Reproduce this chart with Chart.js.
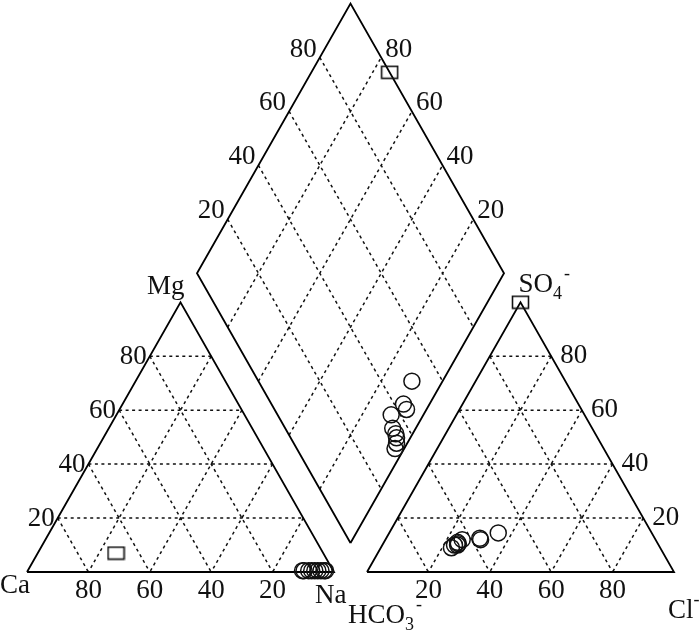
<!DOCTYPE html>
<html>
<head>
<meta charset="utf-8">
<script src="https://cdn.jsdelivr.net/npm/chart.js@4/dist/chart.umd.min.js"></script>
<style>
  body { margin: 0; background: #fff; }
  canvas { display: block; }
</style>
</head>
<body>
<canvas id="piper" width="700" height="632"></canvas>
<script>
// Piper diagram values, meq %
// samples drawn as circles
const naCircle   = [90, 91.5, 93.5, 89.5, 92.5, 94.5, 95.5, 96.5, 97];
const mgCircle   = [0.5, 0.5, 0.5, 0.5, 0.5, 0.5, 0.5, 0.5, 0.5];
const caCircle   = [9.5, 8, 6, 10, 7, 5, 4, 3, 2.5];
const hco3Circle = [50, 57, 57, 63, 65, 65, 65.5, 66.5, 68];
const so4Circle  = [14.5, 12, 12.5, 12, 11, 10.5, 10, 10, 9];
const clCircle   = [35.5, 31, 30.5, 25, 24, 24.5, 24.5, 23.5, 23];
// sample drawn as a square
const naSquare   = [25.5];
const mgSquare   = [7];
const caSquare   = [67.5];
const hco3Square = [0];
const so4Square  = [100];
const clSquare   = [0];
// tick labels on every edge
const TICKS = [20, 40, 60, 80];

// geometry: each triangle has side 100, GAP between the two triangles
const GAP = 10.75;
const K = Math.sqrt(3) / 2;

function catXY(ca, mg, na) { return { x: na + mg / 2, y: mg * K }; }
function anXY(hco3, so4, cl) { return { x: 100 + GAP + cl + so4 / 2, y: so4 * K }; }
// diamond point: Na kept from the cation side, HCO3 from the anion side
function dmXY(na, hco3) { return { x: (na + 200 + GAP - hco3) / 2, y: K * (200 + GAP - hco3 - na) }; }

const BREAK = { x: NaN, y: NaN };
function segments(pairs) {
    const out = [];
    pairs.forEach(p => out.push(p[0], p[1], BREAK));
    return out;
}

const gridCat = segments(TICKS.flatMap(k => [
    [catXY(100 - k, k, 0), catXY(0, k, 100 - k)],
    [catXY(k, 100 - k, 0), catXY(k, 0, 100 - k)],
    [catXY(0, 100 - k, k), catXY(100 - k, 0, k)]
]));
const gridAn = segments(TICKS.flatMap(k => [
    [anXY(100 - k, k, 0), anXY(0, k, 100 - k)],
    [anXY(k, 100 - k, 0), anXY(k, 0, 100 - k)],
    [anXY(0, 100 - k, k), anXY(100 - k, 0, k)]
]));
const gridDm = segments(TICKS.flatMap(k => [
    [dmXY(k, 100), dmXY(k, 0)],
    [dmXY(0, k), dmXY(100, k)]
]));

const frames = [
    catXY(100, 0, 0), catXY(0, 0, 100), catXY(0, 100, 0), catXY(100, 0, 0), BREAK,
    anXY(100, 0, 0), anXY(0, 0, 100), anXY(0, 100, 0), anXY(100, 0, 0), BREAK,
    dmXY(100, 100), dmXY(0, 100), dmXY(0, 0), dmXY(100, 0), dmXY(100, 100)
];

const circles = [];
naCircle.forEach((na, i) => {
    circles.push(catXY(caCircle[i], mgCircle[i], na));
    circles.push(anXY(hco3Circle[i], so4Circle[i], clCircle[i]));
    circles.push(dmXY(na, hco3Circle[i]));
});
const squares = [];
naSquare.forEach((na, i) => {
    squares.push(catXY(caSquare[i], mgSquare[i], na));
    squares.push(anXY(hco3Square[i], so4Square[i], clSquare[i]));
    squares.push(dmXY(na, hco3Square[i]));
});

// open rectangle marker
const rectMark = document.createElement('canvas');
rectMark.width = 19;
rectMark.height = 15;
(function () {
    const c = rectMark.getContext('2d');
    c.strokeStyle = '#111';
    c.lineWidth = 1.6;
    c.strokeRect(1.5, 1.5, 16, 12);
})();

const FONT = '"Liberation Serif", "Times New Roman", serif';

function chem(ctx, parts, x, y, size) {
    let cx = x;
    parts.forEach(([t, kind]) => {
        const s = kind === 'n' ? size : Math.round(size * 0.68);
        ctx.font = s + 'px ' + FONT;
        const dy = kind === 'sub' ? 7 : (kind === 'sup' ? -13 : 0);
        ctx.fillText(t, cx, y + dy);
        cx += ctx.measureText(t).width + (kind === 'sub' ? 2 : 0);
    });
}

const textPlugin = {
    id: 'piperText',
    afterDraw(chart) {
        const ctx = chart.ctx;
        const sx = chart.scales.x, sy = chart.scales.y;
        const px = p => ({ x: sx.getPixelForValue(p.x), y: sy.getPixelForValue(p.y) });
        ctx.save();
        ctx.fillStyle = '#111';
        ctx.font = '27px ' + FONT;
        ctx.textBaseline = 'middle';

        TICKS.forEach(k => {
            let p;
            // cation: Mg on left edge, Ca along base
            p = px(catXY(100 - k, k, 0));
            ctx.textAlign = 'right'; ctx.fillText(String(k), p.x - 3, p.y + 1);
            p = px(catXY(k, 0, 100 - k));
            ctx.textAlign = 'center'; ctx.fillText(String(k), p.x, p.y + 19);
            // anion: Cl along base, SO4 on right edge
            p = px(anXY(100 - k, 0, k));
            ctx.textAlign = 'center'; ctx.fillText(String(k), p.x, p.y + 19);
            p = px(anXY(0, k, 100 - k));
            ctx.textAlign = 'left'; ctx.fillText(String(k), p.x + 9, p.y);
            // diamond: SO4+Cl on upper left edge, Ca+Mg on upper right edge
            p = px(dmXY(0, 100 - k));
            ctx.textAlign = 'right'; ctx.fillText(String(k), p.x - 3, p.y - 8);
            p = px(dmXY(100 - k, 0));
            ctx.textAlign = 'left'; ctx.fillText(String(k), p.x + 4, p.y - 8);
        });

        ctx.textBaseline = 'alphabetic';
        let p = px(catXY(0, 100, 0));
        ctx.textAlign = 'right'; ctx.fillText('Mg', p.x + 4, p.y - 8);
        ctx.textAlign = 'left';
        p = px(catXY(100, 0, 0));
        ctx.fillText('Ca', p.x - 27, p.y + 21);
        p = px(catXY(0, 0, 100));
        ctx.fillText('Na', p.x - 19, p.y + 31);
        p = px(anXY(100, 0, 0));
        chem(ctx, [['HCO', 'n'], ['3', 'sub'], ['-', 'sup']], p.x - 19, p.y + 51, 27);
        p = px(anXY(0, 100, 0));
        chem(ctx, [['SO', 'n'], ['4', 'sub'], ['-', 'sup']], p.x - 2, p.y - 10, 27);
        p = px(anXY(0, 0, 100));
        chem(ctx, [['Cl', 'n'], ['-', 'sup']], p.x - 6, p.y + 46, 27);
        ctx.restore();
    }
};

const gridStyle = {
    showLine: true, pointRadius: 0, borderColor: '#111', borderWidth: 1.5,
    borderDash: [3, 3.5], fill: false, spanGaps: false
};

new Chart(document.getElementById('piper'), {
    type: 'scatter',
    data: {
        datasets: [
            { label: 'square', data: squares, pointStyle: rectMark, pointRadius: 8, clip: false },
            { label: 'circle', data: circles, pointStyle: 'circle', pointRadius: 8,
              borderColor: '#111', borderWidth: 1.5, backgroundColor: 'rgba(0,0,0,0)', clip: false },
            { label: 'frame', data: frames, showLine: true, pointRadius: 0, borderColor: '#000',
              borderWidth: 1.8, borderJoinStyle: 'miter', fill: false, spanGaps: false },
            Object.assign({ label: 'cation grid', data: gridCat }, gridStyle),
            Object.assign({ label: 'anion grid', data: gridAn }, gridStyle),
            Object.assign({ label: 'diamond grid', data: gridDm }, gridStyle)
        ]
    },
    options: {
        responsive: false,
        animation: false,
        events: [],
        layout: { padding: 0, autoPadding: false },
        scales: {
            x: { type: 'linear', display: false, bounds: 'data', min: -8.795, max: 219.22 },
            y: { type: 'linear', display: false, bounds: 'data', min: -19.26, max: 183.63 }
        },
        plugins: { legend: { display: false }, tooltip: { enabled: false } }
    },
    plugins: [textPlugin]
});
</script>
</body>
</html>
